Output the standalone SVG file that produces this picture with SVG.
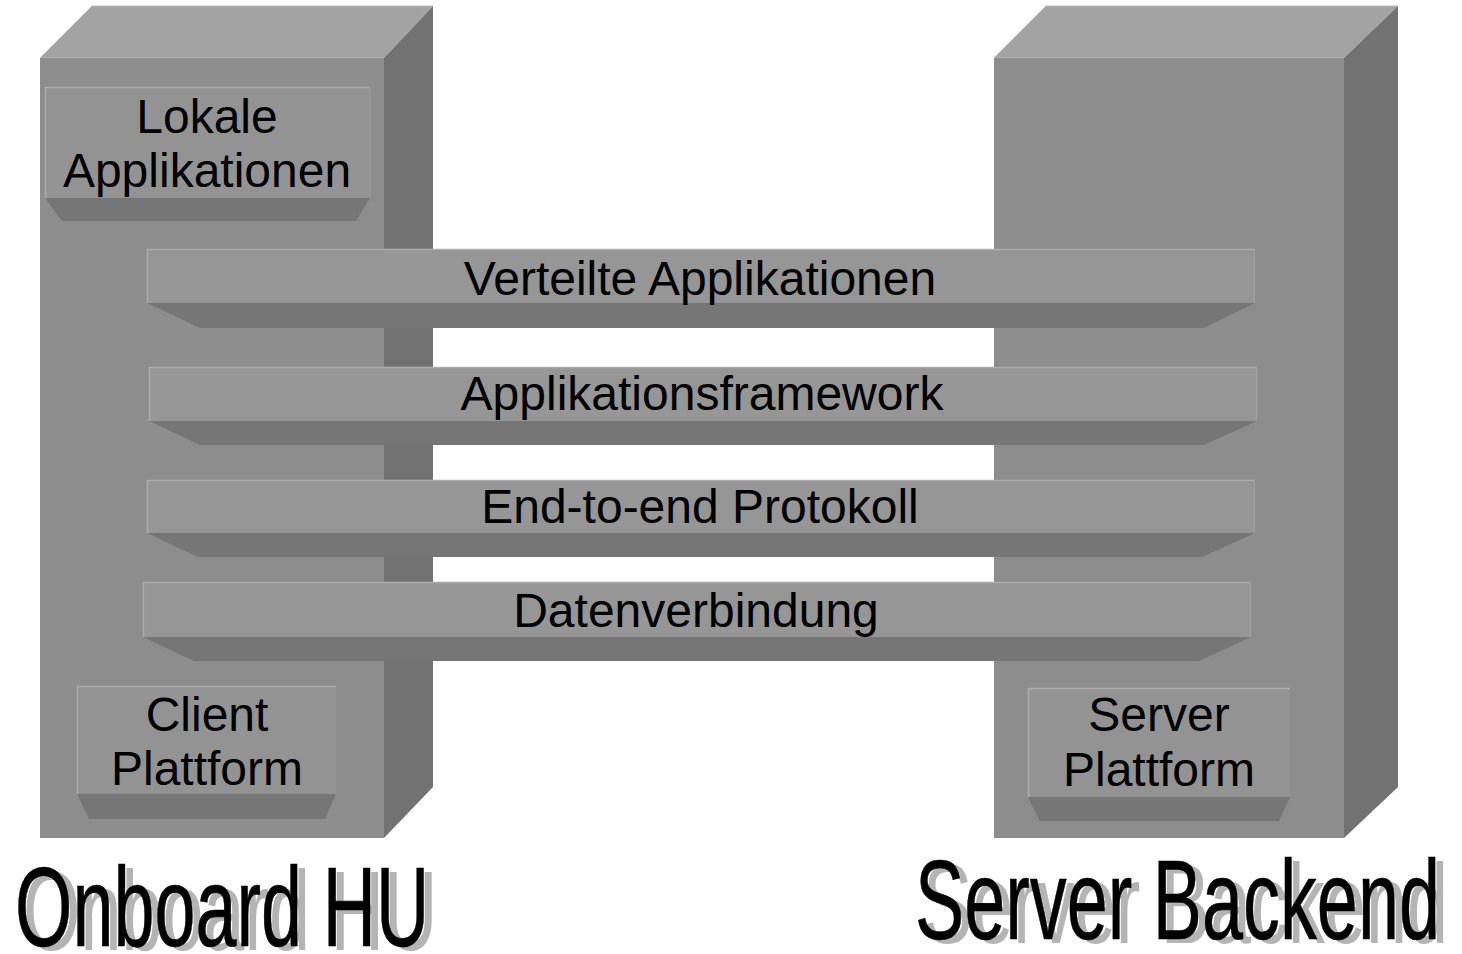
<svg xmlns="http://www.w3.org/2000/svg" width="1462" height="954" viewBox="0 0 1462 954">
<style>
.top{fill:#a3a3a3;stroke:#bdbdbd;stroke-width:1}
.front{fill:#8d8d8d}
.side{fill:#727272}
.face{fill:#969696}
.boxface{fill:#939393}
.bevel{fill:#767676}
.edge{stroke:#adadad;stroke-width:1.5;fill:none}
.lbl{font-family:"Liberation Sans",Arial,sans-serif;font-size:48px;fill:#000;text-anchor:middle}
.big{font-family:"Liberation Sans",Arial,sans-serif;font-size:113px}
</style>
<rect width="1462" height="954" fill="#fff"/>
<g id="block-onboard">
<polygon class="top" points="40,58 92,6 433,6 384,58"/>
<rect class="front" x="40" y="58" width="344" height="780"/>
<polygon class="side" points="384,58 433,6 433,787 384,838"/>
</g>
<g id="block-server">
<polygon class="top" points="994,58 1046,6 1398,6 1344,58"/>
<rect class="front" x="994" y="58" width="350" height="780"/>
<polygon class="side" points="1344,58 1398,6 1398,787 1344,838"/>
</g>
<g id="box-lokale">
<rect class="boxface" x="45" y="87" width="325" height="111"/>
<polyline class="edge" points="45.5,198 45.5,87.5 370,87.5"/>
<polyline points="370,87 370,198" stroke="#9e9e9e" stroke-width="1" fill="none"/>
<polygon class="bevel" points="45,198 370,198 356,221 62,221"/>
<text class="lbl" x="207" y="133">Lokale</text>
<text class="lbl" x="207" y="187">Applikationen</text>
</g>
<g id="box-client">
<rect class="boxface" x="77" y="686" width="259" height="108"/>
<polyline class="edge" points="77.5,794 77.5,686.5 336,686.5"/>
<polygon class="bevel" points="77,794 336,794 325,819 89,819"/>
<text class="lbl" x="207" y="731">Client</text>
<text class="lbl" x="207" y="785">Plattform</text>
</g>
<g id="box-server">
<rect class="boxface" x="1028" y="688" width="262" height="109"/>
<polyline class="edge" points="1028.5,797 1028.5,688.5 1290,688.5"/>
<polygon class="bevel" points="1028,797 1290,797 1279,821 1040,821"/>
<text class="lbl" x="1159" y="731">Server</text>
<text class="lbl" x="1159" y="786">Plattform</text>
</g>
<g id="bar-verteilte">
<rect class="face" x="147" y="249" width="1108" height="54"/>
<polyline class="edge" points="147.5,303 147.5,249.5 1255,249.5"/>
<line x1="1254.5" y1="249" x2="1254.5" y2="303" stroke="#a2a2a2" stroke-width="1"/>
<polygon class="bevel" points="147,303 1255,303 1204,328 200,328"/>
<text class="lbl" x="700" y="295">Verteilte Applikationen</text>
</g>
<g id="bar-framework">
<rect class="face" x="149" y="367" width="1108" height="54"/>
<polyline class="edge" points="149.5,421 149.5,367.5 1257,367.5"/>
<line x1="1256.5" y1="367" x2="1256.5" y2="421" stroke="#a2a2a2" stroke-width="1"/>
<polygon class="bevel" points="149,421 1257,421 1204,445 200,445"/>
<text class="lbl" x="702" y="410">Applikationsframework</text>
</g>
<g id="bar-e2e">
<rect class="face" x="147" y="480" width="1108" height="53"/>
<polyline class="edge" points="147.5,533 147.5,480.5 1255,480.5"/>
<line x1="1254.5" y1="480" x2="1254.5" y2="533" stroke="#a2a2a2" stroke-width="1"/>
<polygon class="bevel" points="147,533 1255,533 1202,557 198,557"/>
<text class="lbl" x="700" y="523">End-to-end Protokoll</text>
</g>
<g id="bar-daten">
<rect class="face" x="143" y="582" width="1108" height="55"/>
<polyline class="edge" points="143.5,637 143.5,582.5 1251,582.5"/>
<line x1="1250.5" y1="582" x2="1250.5" y2="637" stroke="#a2a2a2" stroke-width="1"/>
<polygon class="bevel" points="143,637 1251,637 1199,661 194,661"/>
<text class="lbl" x="696" y="627">Datenverbindung</text>
</g>
<g id="connectors"></g>
<g id="label-onboard">
<text class="big" fill="#b4b4b4" transform="translate(23,950) scale(0.653,1)">Onboard HU</text>
<text class="big" fill="#000" stroke="#000" stroke-width="0.6" transform="translate(15,946) scale(0.653,1)">Onboard HU</text>
</g>
<g id="label-server">
<text class="big" fill="#b4b4b4" transform="translate(923,943) scale(0.653,1)">Server Backend</text>
<text class="big" fill="#000" stroke="#000" stroke-width="0.6" transform="translate(915,939) scale(0.653,1)">Server Backend</text>
</g>
</svg>
